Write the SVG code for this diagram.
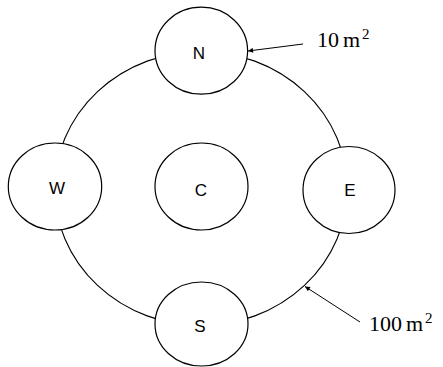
<svg xmlns="http://www.w3.org/2000/svg" width="443" height="367" viewBox="0 0 443 367">
  <defs>
    <marker id="arrow" viewBox="0 0 10 10" refX="10" refY="5" markerWidth="7" markerHeight="5" markerUnits="userSpaceOnUse" orient="auto">
      <path d="M0,0 L10,5 L0,10 z" fill="#000"/>
    </marker>
  </defs>
  <style>
    .node ellipse { fill: #fff; stroke: #000; stroke-width: 1.2; }
    .node text { font-family: "Liberation Sans", Arial, sans-serif; font-size: 17px; fill: #000; text-anchor: middle; dominant-baseline: central; }
    .ring { fill: none; stroke: #000; stroke-width: 1.1; }
    .pointer { stroke: #000; stroke-width: 1; fill: none; marker-end: url(#arrow); }
    .label { font-family: "Liberation Serif", "Times New Roman", serif; font-size: 22px; fill: #000; }
    .sup { font-size: 15px; }
  </style>

  <!-- ring and pointer connectors -->
  <g id="connectors">
    <ellipse class="ring" cx="201" cy="188.5" rx="146.3" ry="137"/>
    <line class="pointer" x1="303" y1="44" x2="248" y2="51"/>
    <line class="pointer" x1="360" y1="322" x2="305" y2="286.5"/>
  </g>

  <g id="node-N" class="node">
    <ellipse cx="201.3" cy="50.7" rx="46.3" ry="43.5"/>
    <text x="199" y="53">N</text>
  </g>
  <g id="node-W" class="node">
    <ellipse cx="55" cy="186.5" rx="46.7" ry="43.5"/>
    <text x="57" y="188">W</text>
  </g>
  <g id="node-C" class="node">
    <ellipse cx="201.5" cy="186.5" rx="46.5" ry="43.5"/>
    <text x="201" y="190">C</text>
  </g>
  <g id="node-E" class="node">
    <ellipse cx="349" cy="190" rx="46" ry="43.5"/>
    <text x="350" y="190">E</text>
  </g>
  <g id="node-S" class="node">
    <ellipse cx="201.5" cy="324" rx="46.5" ry="42"/>
    <text x="200" y="326.5">S</text>
  </g>

  <g id="labels">
    <text class="label" x="317" y="46.7">10<tspan x="343">m</tspan><tspan class="sup" x="362" dy="-8">2</tspan></text>
    <text class="label" x="369" y="330.7">100<tspan x="406">m</tspan><tspan class="sup" x="425" dy="-8">2</tspan></text>
  </g>
</svg>
